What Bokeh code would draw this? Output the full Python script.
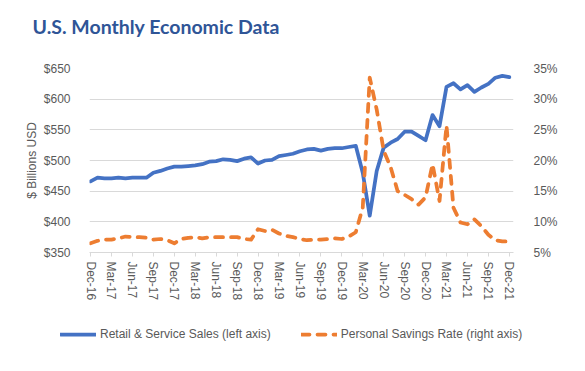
from bokeh.plotting import figure
from bokeh.layouts import column
from bokeh.models import (LinearAxis, Range1d, FixedTicker, PrintfTickFormatter,
                          Legend, LegendItem, Label)
from bokeh.embed import file_html
from bokeh.resources import INLINE

# ---- data (Dec-16 .. Dec-21, monthly) ----
month_index = list(range(61))
tick_positions = list(range(0, 61, 3))
tick_labels = ["Dec-16", "Mar-17", "Jun-17", "Sep-17", "Dec-17", "Mar-18", "Jun-18",
               "Sep-18", "Dec-18", "Mar-19", "Jun-19", "Sep-19", "Dec-19", "Mar-20",
               "Jun-20", "Sep-20", "Dec-20", "Mar-21", "Jun-21", "Sep-21", "Dec-21"]

retail_sales = [466, 472, 471, 471, 472, 471, 472, 472, 472, 480, 483, 487,
                490, 490, 491, 492, 494, 498, 499, 502, 501, 499, 503, 505,
                495, 500, 501, 507, 509, 511, 515, 518, 519, 516, 519, 520,
                520, 522, 524, 480, 410, 483, 521, 529, 535, 547, 547, 540,
                533, 574, 556, 620, 626, 616, 623, 612, 619, 625, 635, 638, 636]

savings_rate = [6.5, 6.9, 7.1, 7.1, 7.3, 7.6, 7.5, 7.5, 7.4, 7.1, 7.2, 7.0,
                6.5, 7.2, 7.4, 7.5, 7.3, 7.5, 7.5, 7.5, 7.5, 7.5, 7.2, 7.1,
                8.8, 8.5, 8.7, 8.1, 7.7, 7.5, 7.2, 7.0, 7.1, 7.1, 7.2, 7.3,
                7.2, 7.6, 8.3, 12.3, 33.5, 28.3, 21.6, 18.9, 15.0, 14.4, 13.7, 12.8,
                14.0, 19.4, 13.4, 25.7, 12.3, 9.9, 9.6, 10.4, 9.3, 7.9, 7.0, 6.8, 6.8]

series_names = ["Retail & Service Sales (left axis)", "Personal Savings Rate (right axis)"]
chart_title = "U.S. Monthly Economic Data"
left_label = "$ Billions USD"

BLUE = "#4472C4"
ORANGE = "#ED7D31"
GRAY_TXT = "#595959"
GRID = "#D9D9D9"
FONT = "Liberation Sans"

# ---- title strip ----
p0 = figure(width=585, height=40, output_backend="svg", toolbar_location=None,
            x_range=Range1d(0, 585), y_range=Range1d(0, 40),
            x_axis_type=None, y_axis_type=None,
            min_border_left=0, min_border_right=0, min_border_top=0,
            min_border_bottom=0, outline_line_color=None, title=None)
p0.frame_align = False
p0.xgrid.grid_line_color = None
p0.ygrid.grid_line_color = None
p0.add_layout(Label(x=32, y=14, text=chart_title, text_font="Lato",
                    text_font_size="19.5px", text_font_style="bold",
                    text_color="#2F5597", text_baseline="alphabetic",
                    text_align="left"))

# ---- main chart ----
p = figure(width=585, height=270, output_backend="svg", toolbar_location=None,
           x_range=Range1d(-0.15, 60.6), y_range=Range1d(350, 650),
           min_border_left=89, min_border_right=72, min_border_top=28,
           min_border_bottom=58, outline_line_color=None, title=None)
p.frame_align = False
p.extra_y_ranges = {"pct": Range1d(5, 35)}

line_kw = dict(line_width=3.75, line_join="round", line_cap="round")
r1 = p.line(month_index, retail_sales, line_color=BLUE, **line_kw)
r2 = p.line(month_index, savings_rate, line_color=ORANGE, line_dash="8 8",
            y_range_name="pct", **line_kw)

# x axis
xa = p.xaxis[0]
xa.ticker = FixedTicker(ticks=tick_positions)
xa.major_label_overrides = {pos: lab for pos, lab in zip(tick_positions, tick_labels)}
xa.major_label_orientation = "vertical"
xa.axis_line_color = GRID
xa.major_tick_line_color = GRID
xa.major_tick_out = 4
xa.major_tick_in = 0
xa.minor_tick_line_color = None
xa.major_label_standoff = 5
xa.major_label_text_font = FONT
xa.major_label_text_font_size = "12px"
xa.major_label_text_color = GRAY_TXT

# left axis
ya = p.yaxis[0]
ya.ticker = FixedTicker(ticks=[350, 400, 450, 500, 550, 600, 650])
ya.formatter = PrintfTickFormatter(format="$%d")
ya.axis_line_color = None
ya.major_tick_line_color = None
ya.minor_tick_line_color = None
ya.major_label_standoff = 13
ya.major_label_text_font = FONT
ya.major_label_text_font_size = "12px"
ya.major_label_text_color = GRAY_TXT
ya.axis_label = left_label
ya.axis_label_text_font = FONT
ya.axis_label_text_font_size = "12px"
ya.axis_label_text_font_style = "normal"
ya.axis_label_text_color = GRAY_TXT
ya.axis_label_standoff = 2

# right axis
ra = LinearAxis(y_range_name="pct", ticker=FixedTicker(ticks=[5, 10, 15, 20, 25, 30, 35]),
                formatter=PrintfTickFormatter(format="%d%%"))
ra.axis_line_color = None
ra.major_tick_line_color = None
ra.minor_tick_line_color = None
ra.major_label_standoff = 14
ra.major_label_text_font = FONT
ra.major_label_text_font_size = "12px"
ra.major_label_text_color = GRAY_TXT
p.add_layout(ra, "right")

p.xgrid.grid_line_color = None
p.ygrid.grid_line_color = GRID
p.ygrid.grid_line_width = 1

# ---- legend strip (series drawn off-range, only the legend shows) ----
p2 = figure(width=585, height=61, output_backend="svg", toolbar_location=None,
            x_range=Range1d(-20, -10), y_range=Range1d(-20, -10),
            x_axis_type=None, y_axis_type=None,
            min_border_left=0, min_border_right=0, min_border_top=0,
            min_border_bottom=0, outline_line_color=None, title=None)
p2.frame_align = False
p2.xgrid.grid_line_color = None
p2.ygrid.grid_line_color = None
d1 = p2.line(month_index, retail_sales, line_color=BLUE, **line_kw)
d2 = p2.line(month_index, savings_rate, line_color=ORANGE, line_dash="8 8", **line_kw)
legend = Legend(items=[LegendItem(label=series_names[0], renderers=[d1]),
                       LegendItem(label=series_names[1], renderers=[d2])],
                orientation="horizontal", location=(60, 30),
                border_line_color=None, background_fill_alpha=0,
                label_text_font=FONT, label_text_font_size="12px",
                label_text_color=GRAY_TXT, glyph_width=36, glyph_height=14,
                label_height=14, label_standoff=4, spacing=30, padding=0, margin=0)
p2.add_layout(legend, "center")

layout = column(p0, p, p2, spacing=0)
open("out.html", "w").write(file_html(layout, INLINE))
